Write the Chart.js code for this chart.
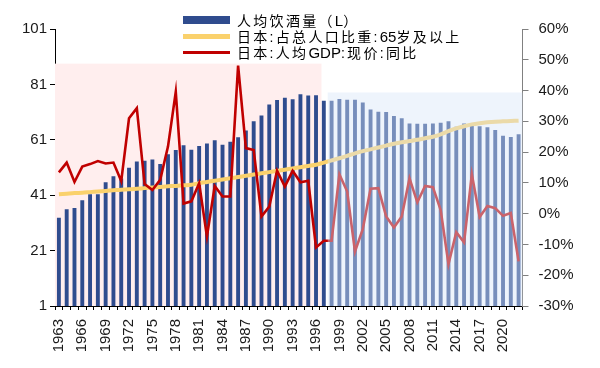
<!DOCTYPE html>
<html>
<head>
<meta charset="utf-8">
<script src="https://cdn.jsdelivr.net/npm/chart.js@4.4.0/dist/chart.umd.min.js"></script>
<style>
    html, body { margin: 0; padding: 0; background: #fff; }
    #wrap { position: relative; width: 600px; height: 368px; }
    #legend {
        position: absolute; left: 183px; top: 12px;
        font: 14px "Liberation Sans", "Noto Sans CJK SC", sans-serif;
        letter-spacing: 2.3px; color: #000;
    }
    .row { height: 16px; display: flex; align-items: center; white-space: nowrap; }
    .sw { width: 47px; margin-right: 7px; }
    .lat { letter-spacing: 0; font-size: 15px; }
</style>
</head>
<body>
<div id="wrap">
    <canvas id="chart" width="600" height="368"></canvas>
    <div id="legend"></div>
</div>
<script>
// years on the x axis
const years = [];
for (let y = 1963; y <= 2022; y++) years.push(String(y));

// 人均饮酒量（L）
const alcohol = [
    32.9, 35.9, 36.4, 39.2, 41.3, 41.3, 45.7, 47.8, 47.0, 50.9,
    53.2, 53.4, 53.9, 52.3, 55.8, 57.3, 59.0, 57.4, 58.8, 59.7,
    60.8, 59.2, 60.3, 61.9, 64.4, 67.7, 69.8, 73.7, 75.4, 76.2,
    75.6, 77.4, 77.0, 77.1, 75.1, 75.1, 75.7, 75.5, 75.5, 74.5,
    71.9, 71.1, 71.0, 69.6, 68.8, 66.9, 66.8, 66.8, 66.9, 67.2,
    67.7, 65.7, 66.9, 66.6, 65.9, 65.5, 64.5, 62.5, 62.0, 63.0
];

// 日本:占总人口比重:65岁及以上 (%)
const aged65 = [
    6.3, 6.5, 6.7, 6.8, 7.0, 7.2, 7.4, 7.6, 7.8, 7.9,
    8.1, 8.3, 8.5, 8.7, 8.9, 9.0, 9.2, 9.4, 9.9, 10.3,
    10.7, 11.1, 11.5, 11.9, 12.3, 12.7, 13.1, 13.5, 13.9, 14.3,
    14.7, 15.1, 15.5, 15.9, 16.6, 17.3, 18.0, 18.8, 19.6, 20.3,
    20.9, 21.5, 22.1, 22.7, 23.2, 23.6, 24.0, 24.5, 25.0, 25.8,
    26.8, 27.7, 28.4, 29.0, 29.4, 29.7, 29.9, 30.0, 30.1, 30.2
];

// 日本:人均GDP:现价:同比 (%)
const gdpYoy = [
    13.4, 16.6, 10.3, 15.3, 16.1, 17.1, 16.3, 16.6, 10.6, 31.0,
    34.3, 9.6, 7.7, 11.0, 21.8, 39.6, 3.3, 4.0, 9.9, -7.4,
    9.0, 5.6, 5.6, 48.1, 21.3, 20.7, -0.9, 2.3, 14.0, 8.8,
    13.9, 10.2, 10.7, -11.0, -8.8, -8.8, 12.8, 7.2, -12.3, -5.0,
    8.1, 8.3, -0.9, -4.5, -0.9, 11.5, 3.7, 9.0, 8.6, 1.2,
    -16.4, -6.0, -9.3, 12.8, -1.1, 2.5, 1.8, -0.7, 0.2, -15.5
];

const leftTicks = [1, 21, 41, 61, 81, 101];
const rightTicks = [-30, -20, -10, 0, 10, 20, 30, 40, 50, 60];

const seriesNames = ['人均饮酒量（L）', '日本:占总人口比重:65岁及以上', '日本:人均GDP:现价:同比'];

const barColor = '#2F4C8E';
const yellow = '#FAD16C';
const red = '#C00000';

// shaded periods behind / over the plot
const bands = {
    id: 'bands',
    beforeDatasetsDraw(chart) {
        const { ctx, chartArea, scales: { x, y } } = chart;
        ctx.save();
        ctx.fillStyle = '#FFEEEE';
        const right = x.getPixelForValue(33.7);
        const top = y.getPixelForValue(88.5);
        ctx.fillRect(chartArea.left, top, right - chartArea.left, chartArea.bottom - top);
        ctx.restore();
    },
    afterDatasetsDraw(chart) {
        const { ctx, chartArea, scales: { x, y } } = chart;
        ctx.save();
        ctx.fillStyle = 'rgba(216, 230, 248, 0.43)';
        const left = x.getPixelForValue(34.5);
        const top = y.getPixelForValue(78.1);
        ctx.fillRect(left, top, chartArea.right - left, chartArea.bottom - top);
        ctx.restore();
    }
};

Chart.defaults.font.family = '"Liberation Sans", Arial, sans-serif';
Chart.defaults.font.size = 15;
Chart.defaults.color = '#1a1a1a';

const ctx = document.getElementById('chart').getContext('2d');
const chart = new Chart(ctx, {
    data: {
        labels: years,
        datasets: [{
            type: 'bar',
            label: seriesNames[0],
            data: alcohol,
            backgroundColor: barColor,
            categoryPercentage: 1,
            barPercentage: 0.5,
            yAxisID: 'y',
            order: 3
        }, {
            type: 'line',
            label: seriesNames[1],
            data: aged65,
            borderColor: yellow,
            borderWidth: 4,
            pointRadius: 0,
            tension: 0.3,
            yAxisID: 'y1',
            order: 2
        }, {
            type: 'line',
            label: seriesNames[2],
            data: gdpYoy,
            borderColor: red,
            borderWidth: 2.6,
            pointRadius: 0,
            tension: 0,
            yAxisID: 'y1',
            order: 1
        }]
    },
    options: {
        responsive: false,
        animation: false,
        layout: { padding: { top: 29, left: 0, right: 0, bottom: 0 } },
        plugins: {
            legend: { display: false },
            tooltip: { enabled: false }
        },
        scales: {
            x: {
                grid: { drawOnChartArea: false, tickLength: 4, color: '#000' },
                border: { color: '#000' },
                ticks: {
                    autoSkip: false,
                    minRotation: 90,
                    maxRotation: 90,
                    padding: 9,
                    callback: (v, i) => (i % 3 === 0 ? years[i] : '')
                },
                afterFit: s => { s.height = 62; }
            },
            y: {
                position: 'left',
                min: 1,
                max: 101,
                grid: { drawOnChartArea: false, tickLength: 5, color: '#000' },
                border: { color: '#000' },
                ticks: { padding: 3 },
                afterBuildTicks: s => { s.ticks = leftTicks.map(v => ({ value: v })); },
                afterFit: s => { s.width = 55; }
            },
            y1: {
                position: 'right',
                min: -30,
                max: 60,
                grid: { drawOnChartArea: false, tickLength: 6, color: '#808080' },
                border: { color: '#808080' },
                ticks: { padding: 10, callback: v => v + '%' },
                afterBuildTicks: s => { s.ticks = rightTicks.map(v => ({ value: v })); },
                afterFit: s => { s.width = 77.5; }
            }
        }
    },
    plugins: [bands]
});

// legend in HTML, three stacked rows; latin runs keep normal spacing
const swatches = [
    { color: barColor, h: 8 },
    { color: yellow, h: 5 },
    { color: red, h: 3 }
];
const legend = document.getElementById('legend');
legend.innerHTML = seriesNames.map((name, i) => {
    const text = name.replace(/([A-Za-z0-9]+)/g, '<span class="lat">$1</span>');
    return `<div class="row"><span class="sw" style="height:${swatches[i].h}px;background:${swatches[i].color}"></span><span>${text}</span></div>`;
}).join('');
</script>
</body>
</html>
